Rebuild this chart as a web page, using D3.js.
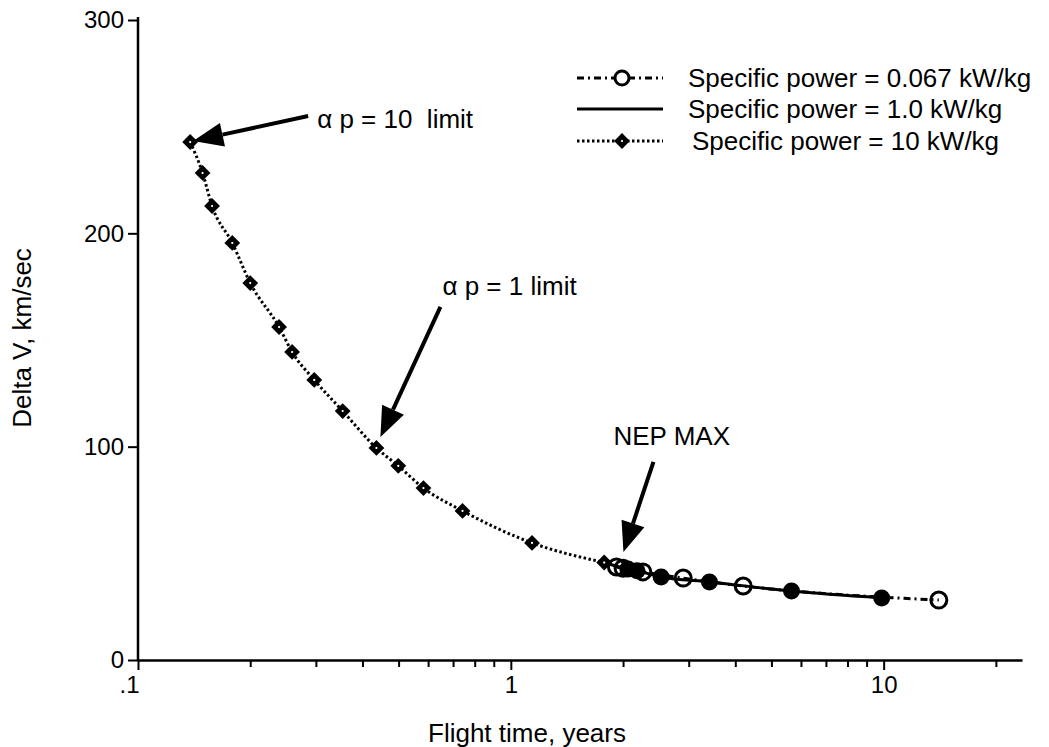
<!DOCTYPE html>
<html>
<head>
<meta charset="utf-8">
<script src="https://cdn.jsdelivr.net/npm/d3@7"></script>
<style>
  body { margin: 0; background: #fff; }
  text { font-family: "Liberation Sans", Arial, Helvetica, sans-serif; fill: #000; white-space: pre; }
</style>
</head>
<body>
<script>
let width = 1049;
let height = 747;

// flight time (years) and delta V (km/sec)
let timeP10 = [0.138, 0.149, 0.158, 0.179, 0.2, 0.239, 0.259, 0.297, 0.354, 0.436, 0.499, 0.583, 0.742, 1.14, 1.78];
let dvP10 = [242.8, 228.3, 212.8, 195.5, 176.7, 156.1, 144.4, 131.3, 116.7, 99.4, 91.0, 80.6, 69.9, 54.9, 45.7];

let timeP1 = [1.78, 2.06, 2.18, 2.53, 3.41, 5.66, 9.88];
let dvP1 = [45.7, 42.6, 41.8, 38.9, 36.6, 32.3, 29.1];

let timeP0067 = [1.92, 2.0, 2.26, 2.9, 4.2, 14.06];
let dvP0067 = [43.6, 43.0, 41.3, 38.4, 34.7, 28.1];

let legendLabels = [
  "Specific power = 0.067 kW/kg",
  "Specific power = 1.0 kW/kg",
  "Specific power = 10 kW/kg"
];

let xTickValues = [0.1, 0.2, 0.3, 0.4, 0.5, 0.6, 0.7, 0.8, 0.9, 1, 2, 3, 4, 5, 6, 7, 8, 9, 10, 20];
let xTickLabels = { 0.1: ".1", 1: "1", 10: "10" };
let yTickValues = [0, 100, 200, 300];

// annotations: arrow tip near a data point, tail offset, label
let notes = [
  { label: "\u03b1 p = 10  limit", t: 0.138, dv: 242.8, tip: [3, -1], tail: [118, -26], text: [127, -14] },
  { label: "\u03b1 p = 1 limit", t: 0.436, dv: 99.4, tip: [4, -11], tail: [64, -141], text: [66, -153] },
  { label: "NEP MAX", t: 1.92, dv: 43.6, tip: [7, -15], tail: [37, -105], text: [-3, -122] }
];

let tickFont = 24;
let fontSize = 26;
let axisStroke = 2.5;

let svg = d3
  .select("body")
  .append("svg")
  .attr("width", width)
  .attr("height", height);

let x = d3.scaleLog().domain([0.1, 23.5]).range([138, 1022]);
let y = d3.scaleLinear().domain([0, 300]).range([660, 20]);

function zip(ts, vs) {
  return ts.map((t, i) => ({ t: t, v: vs[i] }));
}

let line = d3
  .line()
  .x(d => x(d.t))
  .y(d => y(d.v))
  .curve(d3.curveMonotoneX);

// axes
let xAxis = d3
  .axisBottom(x)
  .tickValues(xTickValues)
  .tickSize(7)
  .tickSizeOuter(0)
  .tickFormat(d => xTickLabels[d] || "");

let gx = svg
  .append("g")
  .attr("transform", "translate(0," + y(0) + ")")
  .call(xAxis);
gx.select(".domain").attr("stroke-width", axisStroke);
gx.selectAll(".tick line")
  .attr("stroke-width", 2)
  .attr("y2", d => (xTickLabels[d] ? 10 : 7));
gx.selectAll(".tick text")
  .attr("y", 16)
  .attr("dx", d => (d === 0.1 ? -9 : 0))
  .style("font-size", tickFont + "px")
  .style("font-family", null);

let yAxis = d3
  .axisLeft(y)
  .tickValues(yTickValues)
  .tickSize(10)
  .tickSizeOuter(0);

let gy = svg
  .append("g")
  .attr("transform", "translate(" + x(0.1) + ",0)")
  .call(yAxis);
gy.select(".domain").attr("stroke-width", axisStroke).attr("d", "M0," + (y(300) - 3) + "V" + y(0));
gy.selectAll(".tick line").attr("stroke-width", 2);
gy.selectAll(".tick text")
  .attr("x", -14)
  .style("font-size", tickFont + "px")
  .style("font-family", null);

svg
  .append("text")
  .attr("x", 527)
  .attr("y", 742)
  .attr("text-anchor", "middle")
  .style("font-size", fontSize + "px")
  .text("Flight time, years");

svg
  .append("text")
  .attr("transform", "translate(31," + 338 + ") rotate(-90)")
  .attr("text-anchor", "middle")
  .style("font-size", fontSize + "px")
  .text("Delta V, km/sec");

// series lines
let dataP10 = zip(timeP10, dvP10);
let dataP1 = zip(timeP1, dvP1);
let dataP0067 = zip(timeP0067, dvP0067);

let dashDot = "7,4,2,4";
let dotted = "2.5,2.5";

svg.append("path")
  .datum(dataP0067)
  .attr("d", line)
  .attr("fill", "none")
  .attr("stroke", "#000")
  .attr("stroke-width", 3)
  .attr("stroke-dasharray", dashDot);

svg.append("path")
  .datum(dataP1)
  .attr("d", line)
  .attr("fill", "none")
  .attr("stroke", "#000")
  .attr("stroke-width", 3);

svg.append("path")
  .datum(dataP10)
  .attr("d", line)
  .attr("fill", "none")
  .attr("stroke", "#000")
  .attr("stroke-width", 3)
  .attr("stroke-dasharray", dotted);

// markers
let diamond = d3.symbol().type(d3.symbolSquare).size(125);

function drawDiamonds(g, data) {
  let m = g.selectAll(".dia")
    .data(data)
    .enter()
    .append("g")
    .attr("transform", d => "translate(" + x(d.t) + "," + y(d.v) + ") rotate(45)");
  m.append("path").attr("d", diamond).attr("fill", "#000");
  m.append("circle").attr("r", 1.1).attr("fill", "#fff");
}

svg.append("g")
  .selectAll("circle")
  .data(dataP0067)
  .enter()
  .append("circle")
  .attr("cx", d => x(d.t))
  .attr("cy", d => y(d.v))
  .attr("r", 8)
  .attr("fill", "none")
  .attr("stroke", "#000")
  .attr("stroke-width", 3);

svg.append("g")
  .selectAll("circle")
  .data(dataP1.slice(1))
  .enter()
  .append("circle")
  .attr("cx", d => x(d.t))
  .attr("cy", d => y(d.v))
  .attr("r", 8.5)
  .attr("fill", "#000");

drawDiamonds(svg.append("g"), dataP10);

// annotations
function arrow(x1, y1, x2, y2) {
  let ang = Math.atan2(y2 - y1, x2 - x1);
  let len = 30;
  let half = 12;
  let bx = x2 - len * Math.cos(ang);
  let by = y2 - len * Math.sin(ang);
  let px = -Math.sin(ang) * half;
  let py = Math.cos(ang) * half;
  let g = svg.append("g");
  g.append("line")
    .attr("x1", x1).attr("y1", y1)
    .attr("x2", bx).attr("y2", by)
    .attr("stroke", "#000")
    .attr("stroke-width", 4);
  g.append("path")
    .attr("d", "M" + x2 + "," + y2 + "L" + (bx + px) + "," + (by + py) + "L" + (bx - px) + "," + (by - py) + "Z")
    .attr("fill", "#000");
}

notes.forEach(n => {
  let px = x(n.t);
  let py = y(n.dv);
  arrow(px + n.tail[0], py + n.tail[1], px + n.tip[0], py + n.tip[1]);
  svg.append("text")
    .attr("x", px + n.text[0])
    .attr("y", py + n.text[1])
    .style("font-size", fontSize + "px")
    .text(n.label);
});

// legend
let legendX = 577;
let legendW = 86;
let legendRows = [78, 109, 141];
let legendDash = [dashDot, null, dotted];

let legend = svg.append("g");
legendLabels.forEach((label, i) => {
  let ly = legendRows[i];
  legend.append("line")
    .attr("x1", legendX)
    .attr("x2", legendX + legendW)
    .attr("y1", ly)
    .attr("y2", ly)
    .attr("stroke", "#000")
    .attr("stroke-width", 3)
    .attr("stroke-dasharray", legendDash[i]);
  legend.append("text")
    .attr("x", 688 + (i === 2 ? 4 : 0))
    .attr("y", ly)
    .attr("dy", "0.35em")
    .style("font-size", fontSize + "px")
    .text(label);
});

legend.append("circle")
  .attr("cx", legendX + 45)
  .attr("cy", legendRows[0])
  .attr("r", 7)
  .attr("fill", "#fff")
  .attr("stroke", "#000")
  .attr("stroke-width", 3);

let lm = legend.append("g")
  .attr("transform", "translate(" + (legendX + 45) + "," + legendRows[2] + ") rotate(45)");
lm.append("path").attr("d", diamond).attr("fill", "#000");
lm.append("circle").attr("r", 1.1).attr("fill", "#fff");
</script>
</body>
</html>
